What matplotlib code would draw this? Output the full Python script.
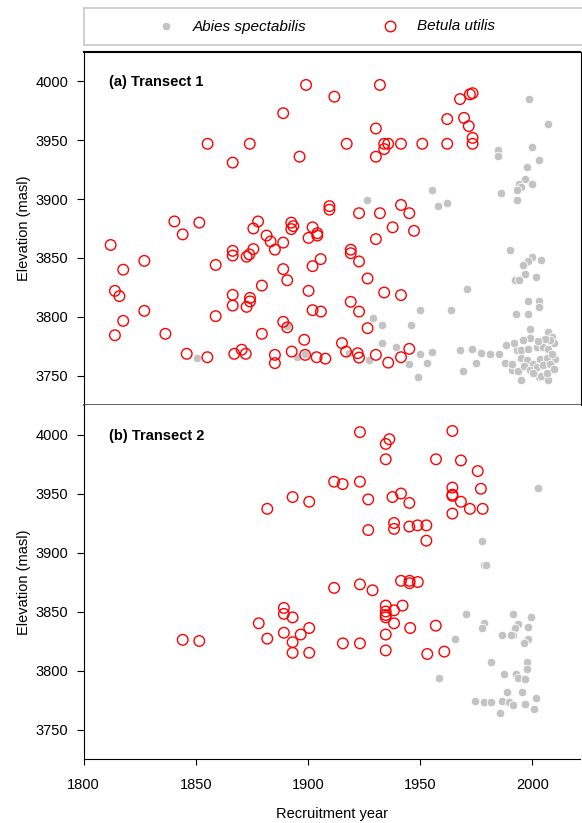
import matplotlib
matplotlib.use("Agg")
import matplotlib.pyplot as plt
from matplotlib import font_manager

# Transect 1 - Abies spectabilis (grey dots)
t1_abies_year = [1850.4, 1890.5, 1895.3, 1898.8, 1926.2, 1955.2, 1958.1, 1962.0, 1984.8, 1984.8,
                 1998.7, 2006.9, 1999.9, 2002.8, 1997.8, 1996.9, 1993.9, 1995.0, 1993.0, 1999.9,
                 1985.9, 1993.0, 1990.0, 1999.9, 1997.9, 1996.0, 2003.7, 1996.8, 2001.6, 1992.3,
                 1993.9, 1970.9, 1997.9, 2002.8, 2002.8, 1950.1, 1963.9, 1992.9, 1997.9, 1929.1,
                 1933.2, 1946.1, 1998.8, 2006.9, 2008.8, 1933.2, 1939.1, 1950.1, 1955.2, 1945.0,
                 1952.9, 1949.1, 1918.2, 1927.1, 1967.9, 1973.0, 1977.0, 1981.0, 1985.0, 1988.0,
                 1990.8, 1995.0, 1969.0, 1974.9, 2006.9, 2002.8, 1993.0, 1995.2, 1998.1, 2001.9,
                 2004.8, 2007.0, 1994.8, 1997.5, 2000.5, 2003.5, 2006.5, 2010.0, 1990.9, 1993.8,
                 1996.5, 1999.0, 2002.0, 2005.0, 2008.0, 2009.0, 2009.5, 2008.0, 2005.5, 2002.5,
                 1999.0, 1996.0, 1992.0, 1988.5, 2003.9, 2000.4, 2006.5, 2009.5]
t1_abies_elev = [3765, 3792, 3766, 3768, 3899, 3908, 3894, 3897, 3942, 3937,
                 3985, 3964, 3944, 3933, 3927, 3917, 3913, 3910, 3908, 3913,
                 3905, 3899, 3857, 3851, 3847, 3844, 3848, 3836, 3834, 3831,
                 3831, 3824, 3813, 3813, 3808, 3806, 3806, 3802, 3802, 3799,
                 3793, 3793, 3790, 3787, 3783, 3778, 3774, 3768, 3770, 3760,
                 3761, 3749, 3769, 3763, 3772, 3773, 3769, 3768, 3768, 3761,
                 3755, 3746, 3754, 3761, 3746, 3749, 3772, 3772, 3773, 3774,
                 3774, 3773, 3765, 3763, 3760, 3764, 3765, 3764, 3760, 3754,
                 3758, 3755, 3757, 3759, 3760, 3768, 3778, 3780, 3781, 3779,
                 3782, 3780, 3778, 3776, 3750, 3752, 3752, 3756]

# Transect 1 - Betula utilis (red open circles)
t1_betula_year = [1855.3, 1866.5, 1874.1, 1889.0, 1899.2, 1896.3, 1909.6, 1909.6, 1840.5, 1851.6,
                  1877.8, 1875.7, 1892.6, 1893.5, 1892.6, 1902.1, 1844.2, 1881.6, 1883.4, 1889.0,
                  1885.3, 1900.3, 1904.2, 1904.2, 1812.1, 1866.5, 1866.5, 1872.7, 1873.9, 1875.7,
                  1827.1, 1817.7, 1858.9, 1889.0, 1890.8, 1902.1, 1905.7, 1879.5, 1814.0, 1816.0,
                  1866.5, 1866.5, 1874.2, 1874.2, 1872.7, 1900.3, 1902.1, 1905.8, 1827.1, 1817.7,
                  1858.9, 1889.0, 1890.8, 1814.0, 1836.5, 1879.5, 1898.4, 1846.0, 1855.2, 1867.2,
                  1870.5, 1872.3, 1885.3, 1885.3, 1892.8, 1898.8, 1903.9, 1907.8,
                  1932.1, 1911.8, 1967.8, 1972.2, 1973.4, 1930.3, 1962.1, 1969.6, 1971.7, 1917.3,
                  1934.0, 1935.8, 1934.0, 1941.5, 1951.0, 1962.1, 1973.4, 1973.4, 1930.3, 1922.8,
                  1932.1, 1941.5, 1945.2, 1937.8, 1947.3,
                  1930.3, 1919.1, 1919.1, 1922.8, 1926.6, 1934.0, 1941.5, 1919.1, 1922.8, 1926.6,
                  1915.2, 1917.0, 1922.2, 1922.8, 1930.3, 1935.8, 1941.5, 1945.2]
t1_betula_elev = [3947, 3931, 3947, 3973, 3997, 3936, 3894, 3891, 3881, 3880,
                  3881, 3875, 3880, 3877, 3874.5, 3876, 3870, 3869, 3864, 3863,
                  3857, 3867, 3871, 3869, 3861, 3856, 3852, 3851, 3853, 3857.5,
                  3847.5, 3840, 3844, 3840.5, 3831, 3843, 3849, 3826.5, 3822, 3817.5,
                  3818.6, 3809.5, 3816, 3813, 3808.4, 3822, 3805.6, 3804.4, 3805, 3796.5,
                  3800.5, 3795.7, 3791, 3784.3, 3785.5, 3785.5, 3780.4, 3768.5, 3765.6, 3768.5,
                  3772, 3768.5, 3767.6, 3760.6, 3770.4, 3767.6, 3765.6, 3764.4,
                  3997, 3987, 3985, 3989, 3990, 3960, 3968, 3969, 3962, 3947,
                  3947, 3947, 3942.5, 3947, 3947, 3947, 3952, 3947, 3936, 3888,
                  3888, 3895, 3888, 3876, 3873,
                  3866, 3857, 3854, 3847, 3832.5, 3820.6, 3818.4, 3812.7, 3804.4, 3790.3,
                  3777.6, 3770.4, 3769, 3765.3, 3767.6, 3761, 3765.6, 3772.7]

# Transect 2 - Abies spectabilis
t2_abies_year = [2002.7, 1977.6, 1978.5, 1979.2, 1970.6, 1978.5, 1977.7, 1965.6, 1991.5, 1999.4,
                 1993.6, 1992.3, 1991.5, 1990.6, 1998.3, 1998.3, 1996.2, 1986.6, 1981.6, 1997.6,
                 1997.6, 1987.5, 1992.7, 1993.6, 1996.6, 1958.6, 1988.6, 1995.4, 2001.7, 1974.6,
                 1978.5, 1981.6, 1986.6, 1989.8, 1991.5, 1996.6, 1985.6, 2000.6]
t2_abies_elev = [3955, 3910, 3889, 3889, 3848, 3840, 3836, 3827, 3848, 3845,
                 3839, 3836, 3830, 3830, 3837, 3827, 3823, 3830.5, 3807, 3807,
                 3801, 3797, 3797, 3794, 3793, 3794, 3782, 3782, 3777, 3774,
                 3773, 3773, 3774, 3773, 3771, 3772, 3764, 3767]

# Transect 2 - Betula utilis
t2_betula_year = [1881.9, 1893.2, 1900.6, 1889.3, 1889.3, 1893.2, 1878.1, 1900.6, 1889.3, 1896.8,
                  1881.9, 1893.2, 1893.2, 1900.6, 1844.2, 1851.6,
                  1923.2, 1964.4, 1936.3, 1934.7, 1934.7, 1957.1, 1968.2, 1975.7, 1911.7, 1915.5,
                  1923.2, 1964.4, 1964.4, 1964.4, 1977.1, 1926.9, 1937.7, 1941.5, 1945.2, 1968.2,
                  1972.2, 1977.9, 1964.4, 1938.4, 1938.4, 1926.9, 1945.2, 1948.9, 1952.8, 1952.8,
                  1941.5, 1945.3, 1945.3, 1949.0, 1911.7, 1923.2, 1928.8, 1934.7, 1934.7, 1934.7,
                  1934.7, 1938.4, 1942.2, 1938.4, 1945.6, 1957.0, 1934.7, 1915.6, 1923.2, 1934.7,
                  1953.2, 1960.8]
t2_betula_elev = [3937, 3947, 3943, 3853, 3848, 3845, 3840, 3836, 3832, 3830.5,
                  3827, 3824, 3815, 3815, 3826, 3825,
                  4002, 4003, 3996, 3992, 3979, 3979, 3978, 3969, 3960, 3958,
                  3960, 3955, 3949, 3948, 3954, 3945, 3947, 3950, 3942, 3943,
                  3937, 3937, 3933, 3925, 3920, 3919, 3922, 3923, 3923, 3910,
                  3876, 3876, 3874, 3875, 3870, 3873, 3868, 3855, 3850, 3847,
                  3845, 3851, 3855, 3840, 3836, 3838, 3830.5, 3823, 3823, 3817,
                  3814, 3816]

panel_titles = ["(a) Transect 1", "(b) Transect 2"]
elev_ticks = [3750, 3800, 3850, 3900, 3950, 4000]
year_ticks = [1800, 1850, 1900, 1950, 2000]

plt.rcParams['font.family'] = ['Liberation Sans', 'DejaVu Sans']
names = {f.name for f in font_manager.fontManager.ttflist}
tick_font = 'Liberation Sans Narrow' if 'Liberation Sans Narrow' in names else 'Liberation Sans'

W, H = 582, 823


def box(x0, y0, x1, y1):
    return [x0 / W, 1 - y1 / H, (x1 - x0) / W, (y1 - y0) / H]


fig = plt.figure(figsize=(W / 100, H / 100), dpi=100)
ax1 = fig.add_axes(box(83.5, 52, 580.5, 405))
ax2 = fig.add_axes(box(83.5, 405, 580.5, 759))

abies_kw = dict(s=38, c='#c3c3c3', edgecolors='white', linewidths=0.6, zorder=2)
betula_kw = dict(s=58, facecolors='none', edgecolors='red', linewidths=1.0, zorder=3)

data = [(t1_abies_year, t1_abies_elev, t1_betula_year, t1_betula_elev),
        (t2_abies_year, t2_abies_elev, t2_betula_year, t2_betula_elev)]

for ax, (ay, ae, by, be), title in zip([ax1, ax2], data, panel_titles):
    ha = ax.scatter(ay, ae, label="Abies spectabilis", **abies_kw)
    hb = ax.scatter(by, be, label="Betula utilis", **betula_kw)
    ax.set_xlim(1800, 2021.5)
    ax.set_ylim(3725, 4025)
    ax.set_xticks(year_ticks)
    ax.set_yticks(elev_ticks)
    ax.tick_params(axis='y', length=5, width=0.8, labelsize=10.5, pad=6)
    for lab in ax.get_yticklabels():
        lab.set_fontfamily(tick_font)
    ax.set_ylabel("Elevation (masl)", fontsize=10.5)
    ax.yaxis.set_label_coords(-0.105, 0.5)
    ax.text(0.051, 0.915 if ax is ax1 else 0.912, title, transform=ax.transAxes,
            fontsize=10.5, fontweight='bold', va='center')

for s in ax1.spines.values():
    s.set_color('black')
ax1.spines['top'].set_linewidth(1.5)
ax1.spines['bottom'].set_color('#555555')
ax1.spines['bottom'].set_linewidth(1.3)
ax1.tick_params(axis='x', length=3, width=0.8, color='#888888', labelbottom=False)

ax2.spines['top'].set_visible(False)
ax2.spines['right'].set_visible(False)
ax2.tick_params(axis='x', length=4, width=0.8, labelsize=10.5, pad=10)
for lab in ax2.get_xticklabels():
    lab.set_fontfamily(tick_font)
ax2.set_xlabel("Recruitment year", fontsize=10.5)
ax2.xaxis.set_label_coords(0.5, -0.135)

# legend box on top
axl = fig.add_axes(box(83.5, 8, 590, 45))
axl.set_xticks([])
axl.set_yticks([])
for s in axl.spines.values():
    s.set_color('#c8c8c8')
    s.set_linewidth(1.2)
leg = axl.legend(handles=[ha, hb], loc='center left', bbox_to_anchor=(0.106, 0.5),
                 ncol=2, frameon=False, columnspacing=4.5,
                 handletextpad=0.75, prop={'style': 'italic', 'size': 11})

fig.savefig("out.png", dpi=100)
